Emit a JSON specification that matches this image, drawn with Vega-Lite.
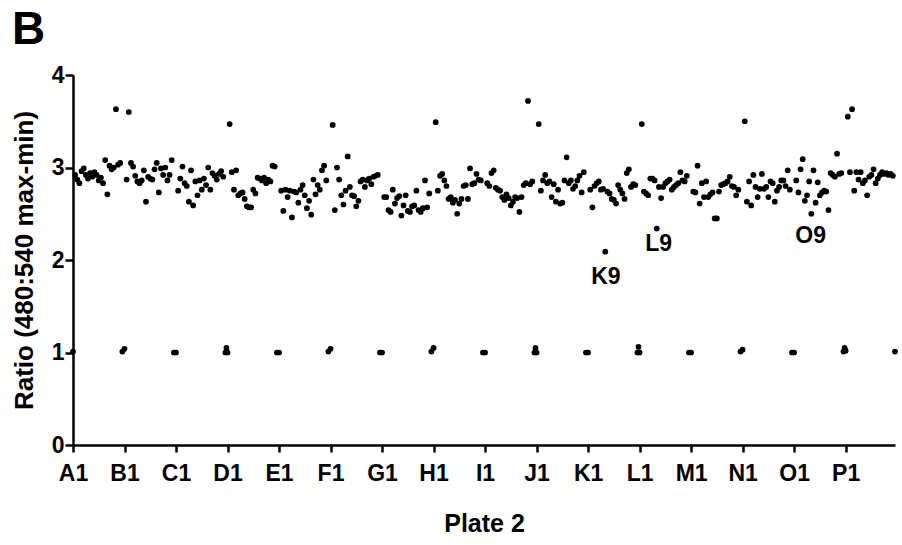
{
  "$schema": "https://vega.github.io/schema/vega-lite/v6.json",
  "width": 822,
  "height": 370,
  "autosize": {"type": "none"},
  "padding": {"left": 73, "top": 75, "right": 7, "bottom": 100},
  "background": "white",
  "title": {"text": "B", "fontSize": 46, "font": "Liberation Sans", "fontWeight": "bold", "anchor": "start", "frame": "group", "dx": -61, "offset": 10, "color": "black"},
  "config": {"view": {"stroke": null}},
  "datasets": {
    "wells": [
      {"i":1,"v":2.92},{"i":2,"v":2.87},{"i":3,"v":2.83},{"i":4,"v":2.96},{"i":5,"v":2.99},{"i":6,"v":2.92},{"i":7,"v":2.88},{"i":8,"v":2.94},{"i":9,"v":2.90},{"i":10,"v":2.95},{"i":11,"v":2.92},{"i":12,"v":2.86},{"i":13,"v":2.89},{"i":14,"v":2.83},{"i":15,"v":3.08},{"i":16,"v":2.71},{"i":17,"v":3.02},{"i":18,"v":2.98},{"i":19,"v":3.00},{"i":20,"v":3.63},{"i":21,"v":3.03},{"i":22,"v":3.05},
      {"i":25,"v":2.87},{"i":26,"v":3.60},{"i":27,"v":3.05},{"i":28,"v":3.01},{"i":29,"v":2.91},{"i":30,"v":2.85},{"i":31,"v":2.83},{"i":32,"v":2.86},{"i":33,"v":2.97},{"i":34,"v":2.63},{"i":35,"v":2.90},{"i":36,"v":2.88},{"i":37,"v":2.87},{"i":38,"v":2.98},{"i":39,"v":3.05},{"i":40,"v":2.73},{"i":41,"v":2.99},{"i":42,"v":2.92},{"i":43,"v":3.00},{"i":44,"v":2.86},{"i":45,"v":2.92},{"i":46,"v":3.08},
      {"i":49,"v":2.75},{"i":50,"v":2.88},{"i":51,"v":3.01},{"i":52,"v":2.83},{"i":53,"v":2.80},{"i":54,"v":2.63},{"i":55,"v":2.97},{"i":56,"v":2.59},{"i":57,"v":2.85},{"i":58,"v":2.70},{"i":59,"v":2.86},{"i":60,"v":2.76},{"i":61,"v":2.88},{"i":62,"v":2.81},{"i":63,"v":3.00},{"i":64,"v":2.76},{"i":65,"v":2.94},{"i":66,"v":2.91},{"i":67,"v":2.87},{"i":68,"v":2.93},{"i":69,"v":2.96},{"i":70,"v":2.90},
      {"i":73,"v":3.47},{"i":74,"v":2.95},{"i":75,"v":2.76},{"i":76,"v":2.97},{"i":77,"v":2.70},{"i":78,"v":2.72},{"i":79,"v":2.73},{"i":80,"v":2.66},{"i":81,"v":2.58},{"i":82,"v":2.57},{"i":83,"v":2.57},{"i":84,"v":2.76},{"i":85,"v":2.72},{"i":86,"v":2.89},{"i":87,"v":2.88},{"i":88,"v":2.86},{"i":89,"v":2.89},{"i":90,"v":2.83},{"i":91,"v":2.87},{"i":92,"v":2.85},{"i":93,"v":3.02},{"i":94,"v":3.01},
      {"i":97,"v":2.75},{"i":98,"v":2.53},{"i":99,"v":2.76},{"i":100,"v":2.68},{"i":101,"v":2.75},{"i":102,"v":2.46},{"i":103,"v":2.74},{"i":104,"v":2.73},{"i":105,"v":2.62},{"i":106,"v":2.76},{"i":107,"v":2.81},{"i":108,"v":2.70},{"i":109,"v":2.56},{"i":110,"v":2.64},{"i":111,"v":2.49},{"i":112,"v":2.87},{"i":113,"v":2.71},{"i":114,"v":2.81},{"i":115,"v":2.76},{"i":116,"v":2.97},{"i":117,"v":3.02},{"i":118,"v":2.86},
      {"i":121,"v":3.46},{"i":122,"v":2.54},{"i":123,"v":3.00},{"i":124,"v":2.87},{"i":125,"v":2.70},{"i":126,"v":2.60},{"i":127,"v":2.75},{"i":128,"v":3.12},{"i":129,"v":2.79},{"i":130,"v":2.70},{"i":131,"v":2.69},{"i":132,"v":2.58},{"i":133,"v":2.64},{"i":134,"v":2.85},{"i":135,"v":2.87},{"i":136,"v":2.79},{"i":137,"v":2.86},{"i":138,"v":2.88},{"i":139,"v":2.82},{"i":140,"v":2.90},{"i":141,"v":2.91},{"i":142,"v":2.92},
      {"i":145,"v":2.68},{"i":146,"v":2.68},{"i":147,"v":2.54},{"i":148,"v":2.52},{"i":149,"v":2.76},{"i":150,"v":2.61},{"i":151,"v":2.67},{"i":152,"v":2.69},{"i":153,"v":2.48},{"i":154,"v":2.59},{"i":155,"v":2.70},{"i":156,"v":2.53},{"i":157,"v":2.52},{"i":158,"v":2.58},{"i":159,"v":2.59},{"i":160,"v":2.75},{"i":161,"v":2.54},{"i":162,"v":2.52},{"i":163,"v":2.56},{"i":164,"v":2.86},{"i":165,"v":2.57},{"i":166,"v":2.72},
      {"i":169,"v":3.49},{"i":170,"v":2.75},{"i":171,"v":2.91},{"i":172,"v":2.93},{"i":173,"v":2.86},{"i":174,"v":2.80},{"i":175,"v":2.66},{"i":176,"v":2.68},{"i":177,"v":2.62},{"i":178,"v":2.65},{"i":179,"v":2.50},{"i":180,"v":2.61},{"i":181,"v":2.66},{"i":182,"v":2.80},{"i":183,"v":2.81},{"i":184,"v":2.66},{"i":185,"v":2.99},{"i":186,"v":2.82},{"i":187,"v":2.83},{"i":188,"v":2.93},{"i":189,"v":2.87},{"i":190,"v":2.86},
      {"i":193,"v":2.83},{"i":194,"v":2.80},{"i":195,"v":2.94},{"i":196,"v":2.97},{"i":197,"v":2.78},{"i":198,"v":2.76},{"i":199,"v":2.75},{"i":200,"v":2.68},{"i":201,"v":2.65},{"i":202,"v":2.71},{"i":203,"v":2.67},{"i":204,"v":2.59},{"i":205,"v":2.63},{"i":206,"v":2.68},{"i":207,"v":2.67},{"i":208,"v":2.52},{"i":209,"v":2.68},{"i":210,"v":2.81},{"i":211,"v":2.83},{"i":212,"v":3.72},{"i":213,"v":2.82},{"i":214,"v":2.85},
      {"i":217,"v":3.47},{"i":218,"v":2.75},{"i":219,"v":2.86},{"i":220,"v":2.92},{"i":221,"v":2.83},{"i":222,"v":2.85},{"i":223,"v":2.68},{"i":224,"v":2.82},{"i":225,"v":2.63},{"i":226,"v":2.76},{"i":227,"v":2.61},{"i":228,"v":2.62},{"i":229,"v":2.86},{"i":230,"v":3.11},{"i":231,"v":2.83},{"i":232,"v":2.86},{"i":233,"v":2.77},{"i":234,"v":2.80},{"i":235,"v":2.86},{"i":236,"v":2.91},{"i":237,"v":2.73},{"i":238,"v":2.95},
      {"i":241,"v":2.76},{"i":242,"v":2.57},{"i":243,"v":2.80},{"i":244,"v":2.83},{"i":245,"v":2.85},{"i":246,"v":2.76},{"i":247,"v":2.77},{"i":248,"v":2.09},{"i":249,"v":2.74},{"i":250,"v":2.72},{"i":251,"v":2.66},{"i":252,"v":2.65},{"i":253,"v":2.61},{"i":254,"v":2.81},{"i":255,"v":2.76},{"i":256,"v":2.72},{"i":257,"v":2.66},{"i":258,"v":2.94},{"i":259,"v":2.98},{"i":260,"v":2.79},{"i":261,"v":2.82},{"i":262,"v":2.81},
      {"i":265,"v":3.47},{"i":266,"v":2.74},{"i":267,"v":2.72},{"i":268,"v":2.70},{"i":269,"v":2.88},{"i":270,"v":2.88},{"i":271,"v":2.86},{"i":272,"v":2.34},{"i":273,"v":2.79},{"i":274,"v":2.67},{"i":275,"v":2.79},{"i":276,"v":2.83},{"i":277,"v":2.85},{"i":278,"v":2.87},{"i":279,"v":2.76},{"i":280,"v":2.79},{"i":281,"v":2.81},{"i":282,"v":2.83},{"i":283,"v":2.95},{"i":284,"v":2.86},{"i":285,"v":2.85},{"i":286,"v":2.91},
      {"i":289,"v":2.74},{"i":290,"v":2.73},{"i":291,"v":3.02},{"i":292,"v":2.61},{"i":293,"v":2.83},{"i":294,"v":2.68},{"i":295,"v":2.85},{"i":296,"v":2.68},{"i":297,"v":2.71},{"i":298,"v":2.73},{"i":299,"v":2.45},{"i":300,"v":2.45},{"i":301,"v":2.74},{"i":302,"v":2.81},{"i":303,"v":2.82},{"i":304,"v":2.83},{"i":305,"v":2.85},{"i":306,"v":2.90},{"i":307,"v":2.80},{"i":308,"v":2.79},{"i":309,"v":2.70},{"i":310,"v":2.76},
      {"i":313,"v":3.50},{"i":314,"v":2.63},{"i":315,"v":2.85},{"i":316,"v":2.59},{"i":317,"v":2.92},{"i":318,"v":2.79},{"i":319,"v":2.68},{"i":320,"v":2.77},{"i":321,"v":2.93},{"i":322,"v":2.77},{"i":323,"v":2.79},{"i":324,"v":2.68},{"i":325,"v":2.85},{"i":326,"v":2.83},{"i":327,"v":2.63},{"i":328,"v":2.75},{"i":329,"v":2.79},{"i":330,"v":2.86},{"i":331,"v":2.86},{"i":332,"v":2.80},{"i":333,"v":2.97},{"i":334,"v":2.76},
      {"i":337,"v":2.86},{"i":338,"v":2.73},{"i":339,"v":2.98},{"i":340,"v":3.09},{"i":341,"v":2.64},{"i":342,"v":2.70},{"i":343,"v":2.85},{"i":344,"v":2.50},{"i":345,"v":2.97},{"i":346,"v":2.62},{"i":347,"v":2.84},{"i":348,"v":2.70},{"i":349,"v":2.73},{"i":350,"v":2.75},{"i":351,"v":2.74},{"i":352,"v":2.54},{"i":353,"v":2.94},{"i":354,"v":2.92},{"i":355,"v":2.90},{"i":356,"v":3.15},{"i":357,"v":2.93},{"i":358,"v":2.94},
      {"i":361,"v":3.55},{"i":362,"v":2.95},{"i":363,"v":3.63},{"i":364,"v":2.75},{"i":365,"v":2.95},{"i":366,"v":2.87},{"i":367,"v":2.95},{"i":368,"v":2.83},{"i":369,"v":2.86},{"i":370,"v":2.70},{"i":371,"v":2.90},{"i":372,"v":2.92},{"i":373,"v":2.98},{"i":374,"v":2.83},{"i":375,"v":2.88},{"i":376,"v":2.92},{"i":377,"v":2.95},{"i":378,"v":2.93},{"i":379,"v":2.94},{"i":380,"v":2.92},{"i":381,"v":2.93},{"i":382,"v":2.91},
      {"i":0,"v":1.01},
      {"i":23,"v":1.01},{"i":24,"v":1.04},
      {"i":47,"v":1.00},{"i":48,"v":1.00},
      {"i":71,"v":1.00},{"i":72,"v":1.00},{"i":71.5,"v":1.05},
      {"i":95,"v":1.00},{"i":96,"v":1.00},
      {"i":119,"v":1.01},{"i":120,"v":1.04},
      {"i":143,"v":1.00},{"i":144,"v":1.00},
      {"i":167,"v":1.01},{"i":168,"v":1.05},
      {"i":191,"v":1.00},{"i":192,"v":1.00},
      {"i":215,"v":1.00},{"i":216,"v":1.00},{"i":215.5,"v":1.05},
      {"i":239,"v":1.00},{"i":240,"v":1.00},
      {"i":263,"v":1.00},{"i":264,"v":1.00},{"i":263.5,"v":1.06},
      {"i":287,"v":1.00},{"i":288,"v":1.00},
      {"i":311,"v":1.01},{"i":312,"v":1.03},
      {"i":335,"v":1.00},{"i":336,"v":1.00},
      {"i":359,"v":1.01},{"i":360,"v":1.02},{"i":359.5,"v":1.05},
      {"i":383,"v":1.01}
    ],
    "labels": [
      {"i":248.3,"v":1.82,"t":"K9"},
      {"i":272.9,"v":2.17,"t":"L9"},
      {"i":343.7,"v":2.26,"t":"O9"}
    ]
  },
  "layer": [
    {
      "data": {"name": "wells"},
      "mark": {"type": "circle", "size": 33, "color": "black", "opacity": 1},
      "encoding": {
        "x": {
          "field": "i", "type": "quantitative",
          "scale": {"domain": [0, 383], "nice": false, "zero": false},
          "axis": {
            "values": [0,24,48,72,96,120,144,168,192,216,240,264,288,312,336,360],
            "labelExpr": "['A','B','C','D','E','F','G','H','I','J','K','L','M','N','O','P'][round(datum.value/24)] + '1'",
            "title": "Plate 2",
            "grid": false,
            "domainColor": "black", "domainWidth": 2.5,
            "tickColor": "black", "tickWidth": 2.5, "tickSize": 7,
            "labelFont": "Liberation Sans", "labelFontWeight": "bold", "labelFontSize": 23, "labelColor": "black",
            "labelPadding": 10, "labelFlush": false, "labelOverlap": false,
            "titleFont": "Liberation Sans", "titleFontWeight": "bold", "titleFontSize": 25, "titleColor": "black",
            "titlePadding": 26
          }
        },
        "y": {
          "field": "v", "type": "quantitative",
          "scale": {"domain": [0, 4], "nice": false},
          "axis": {
            "values": [0,1,2,3,4],
            "format": "d",
            "title": "Ratio (480:540 max-min)",
            "grid": false,
            "domainColor": "black", "domainWidth": 2.5,
            "tickColor": "black", "tickWidth": 2.5, "tickSize": 8,
            "labelFont": "Liberation Sans", "labelFontWeight": "bold", "labelFontSize": 23, "labelColor": "black",
            "labelPadding": 1, "labelFlush": false,
            "titleFont": "Liberation Sans", "titleFontWeight": "bold", "titleFontSize": 26, "titleColor": "black",
            "titlePadding": 14
          }
        }
      }
    },
    {
      "data": {"name": "labels"},
      "mark": {"type": "text", "font": "Liberation Sans", "fontWeight": "bold", "fontSize": 23, "align": "center", "baseline": "middle", "color": "black"},
      "encoding": {
        "x": {"field": "i", "type": "quantitative"},
        "y": {"field": "v", "type": "quantitative"},
        "text": {"field": "t"}
      }
    }
  ]
}
